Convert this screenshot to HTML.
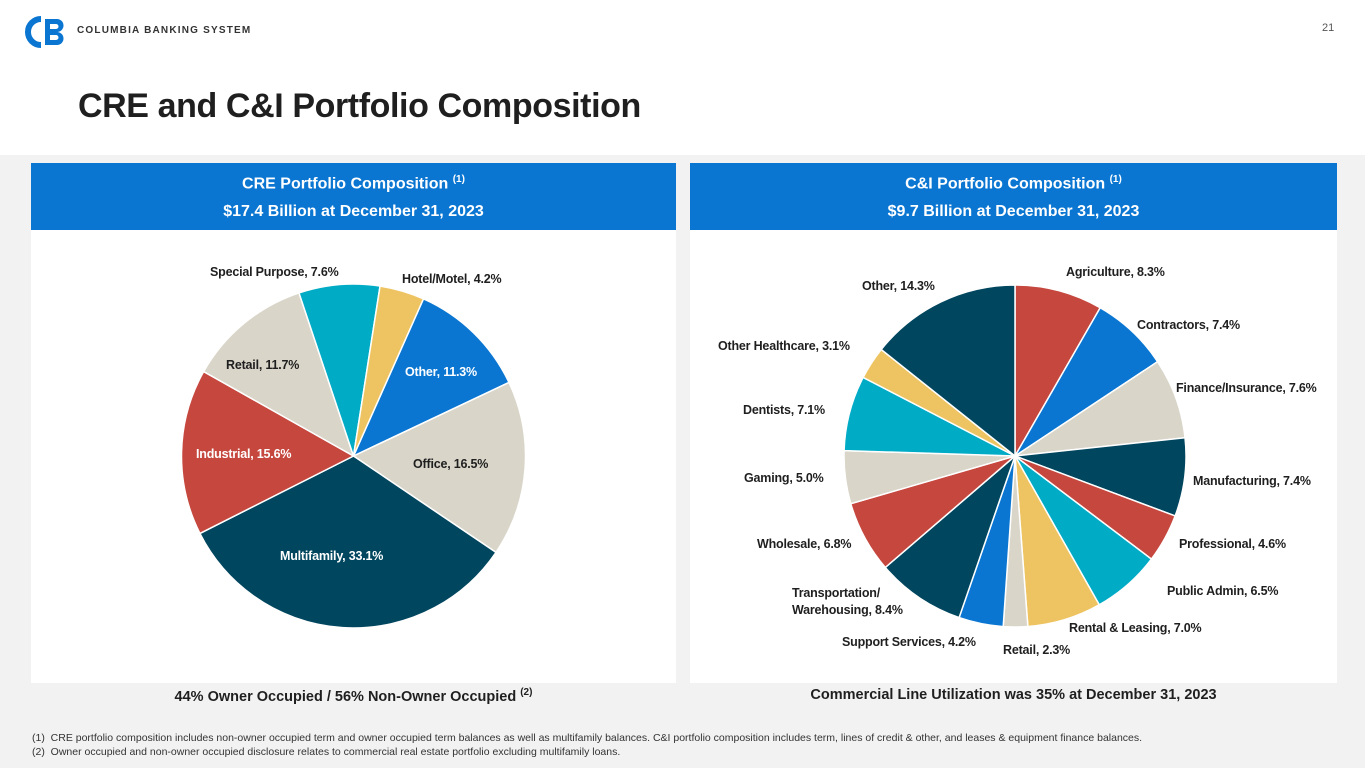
<!DOCTYPE html>
<html><head><meta charset="utf-8"><style>
body{margin:0;width:1365px;height:768px;position:relative;overflow:hidden;font-family:"Liberation Sans",sans-serif;background:#f2f2f2}
.top{position:absolute;left:0;top:0;width:1365px;height:155px;background:#fff}
.panel{position:absolute;top:163px;height:520px;background:#fff}
.hdr{position:absolute;left:0;top:0;width:100%;height:67px;background:#0a76d2;color:#fff;font-weight:bold;font-size:16px;text-align:center}
.hdr div{position:absolute;width:100%}
sup{font-size:10px}
.lbl{position:absolute;font-size:12.5px;font-weight:bold;color:#1f1f1f;white-space:nowrap;letter-spacing:-0.2px}
.w{color:#fff}
.foot{position:absolute;font-size:10.5px;color:#333;left:32px;white-space:nowrap}
.cap{position:absolute;top:687px;font-size:14.5px;font-weight:bold;color:#1f1f1f;text-align:center}
</style></head><body>
<div class="top"></div>
<svg style="position:absolute;left:24px;top:16px" width="44" height="32">
<path d="M17 3 A13 13 0 1 0 17 29" stroke="#0a76d2" stroke-width="6" fill="none"/>
<path d="M21 3 H33 A6.5 6.5 0 0 1 33 16 A6.5 6.5 0 0 1 33 29 H21 Z M26 8 V13 H32 A2.5 2.5 0 0 0 32 8Z M26 19 V24 H32 A2.5 2.5 0 0 0 32 19Z" fill="#0a76d2" fill-rule="evenodd"/></svg>
<div style="position:absolute;left:77px;top:25px;font-size:10px;font-weight:bold;letter-spacing:1.2px;color:#333">COLUMBIA BANKING SYSTEM</div>
<div style="position:absolute;left:1322px;top:22px;font-size:11px;color:#555">21</div>
<div style="position:absolute;left:78px;top:87px;font-size:34px;font-weight:bold;color:#1f1f1f;letter-spacing:-0.4px">CRE and C&amp;I Portfolio Composition</div>

<div class="panel" style="left:31px;width:645px">
<div class="hdr"><div style="top:11px">CRE Portfolio Composition <sup>(1)</sup></div><div style="top:40px">$17.4 Billion at December 31, 2023</div></div>
</div>
<div class="panel" style="left:690px;width:647px">
<div class="hdr"><div style="top:11px">C&amp;I Portfolio Composition <sup>(1)</sup></div><div style="top:40px">$9.7 Billion at December 31, 2023</div></div>
</div>

<svg id="pies" style="position:absolute;left:0;top:0" width="1365" height="768"></svg>

<div class="lbl" style="left:210px;top:265px">Special Purpose, 7.6%</div>
<div class="lbl" style="left:402px;top:272px">Hotel/Motel, 4.2%</div>
<div class="lbl" style="left:226px;top:358px">Retail, 11.7%</div>
<div class="lbl w" style="left:405px;top:365px">Other, 11.3%</div>
<div class="lbl w" style="left:196px;top:447px">Industrial, 15.6%</div>
<div class="lbl" style="left:413px;top:457px">Office, 16.5%</div>
<div class="lbl w" style="left:280px;top:549px">Multifamily, 33.1%</div>

<div class="lbl" style="left:1066px;top:265px">Agriculture, 8.3%</div>
<div class="lbl" style="left:862px;top:279px">Other, 14.3%</div>
<div class="lbl" style="left:1137px;top:318px">Contractors, 7.4%</div>
<div class="lbl" style="left:718px;top:339px">Other Healthcare, 3.1%</div>
<div class="lbl" style="left:1176px;top:381px">Finance/Insurance, 7.6%</div>
<div class="lbl" style="left:743px;top:403px">Dentists, 7.1%</div>
<div class="lbl" style="left:744px;top:471px">Gaming, 5.0%</div>
<div class="lbl" style="left:1193px;top:474px">Manufacturing, 7.4%</div>
<div class="lbl" style="left:757px;top:537px">Wholesale, 6.8%</div>
<div class="lbl" style="left:1179px;top:537px">Professional, 4.6%</div>
<div class="lbl" style="left:792px;top:585px;line-height:17px">Transportation/<br>Warehousing, 8.4%</div>
<div class="lbl" style="left:1167px;top:584px">Public Admin, 6.5%</div>
<div class="lbl" style="left:1069px;top:621px">Rental &amp; Leasing, 7.0%</div>
<div class="lbl" style="left:842px;top:635px">Support Services, 4.2%</div>
<div class="lbl" style="left:1003px;top:643px">Retail, 2.3%</div>

<div class="cap" style="left:31px;width:645px">44% Owner Occupied / 56% Non-Owner Occupied <sup>(2)</sup></div>
<div class="cap" style="left:690px;width:647px">Commercial Line Utilization was 35% at December 31, 2023</div>
<div class="foot" style="top:732px">(1)&nbsp; CRE portfolio composition includes non-owner occupied term and owner occupied term balances as well as multifamily balances. C&amp;I portfolio composition includes term, lines of credit &amp; other, and leases &amp; equipment finance balances.</div>
<div class="foot" style="top:746px">(2)&nbsp; Owner occupied and non-owner occupied disclosure relates to commercial real estate portfolio excluding multifamily loans.</div>

<script>
const creCategories=["Other","Office","Multifamily","Industrial","Retail","Special Purpose","Hotel/Motel"];
const creValues=[11.3,16.5,33.1,15.6,11.7,7.6,4.2];
const creColors=["#0a76d2","#d9d5c9","#00465f","#c5473e","#d9d5c9","#00abc6","#eec462"];
const ciCategories=["Agriculture","Contractors","Finance/Insurance","Manufacturing","Professional","Public Admin","Rental & Leasing","Retail","Support Services","Transportation/Warehousing","Wholesale","Gaming","Dentists","Other Healthcare","Other"];
const ciValues=[8.3,7.4,7.6,7.4,4.6,6.5,7.0,2.3,4.2,8.4,6.8,5.0,7.1,3.1,14.3];
const ciColors=["#c5473e","#0a76d2","#d9d5c9","#00465f","#c5473e","#00abc6","#eec462","#d9d5c9","#0a76d2","#00465f","#c5473e","#d9d5c9","#00abc6","#eec462","#00465f"];
const svg=document.getElementById('pies');
function drawPie(cats,vals,cols,cx,cy,r,startDeg,prefix){
  const total=vals.reduce((a,b)=>a+b,0);
  let a=startDeg*Math.PI/180;
  vals.forEach((v,i)=>{
    const da=v/total*2*Math.PI;
    const x1=cx+r*Math.sin(a),y1=cy-r*Math.cos(a);
    const x2=cx+r*Math.sin(a+da),y2=cy-r*Math.cos(a+da);
    const p=document.createElementNS('http://www.w3.org/2000/svg','path');
    p.setAttribute('d',`M${cx},${cy} L${x1},${y1} A${r},${r} 0 ${da>Math.PI?1:0} 1 ${x2},${y2} Z`);
    p.setAttribute('fill',cols[i]);
    p.setAttribute('stroke','#fff');
    p.setAttribute('stroke-width','1.5');
    
    
    svg.appendChild(p);
    a+=da;
  });
}
drawPie(creCategories,creValues,creColors,353.5,456,172,24,'cre');
drawPie(ciCategories,ciValues,ciColors,1015,456,171,0,'ci');
</script>
</body></html>
